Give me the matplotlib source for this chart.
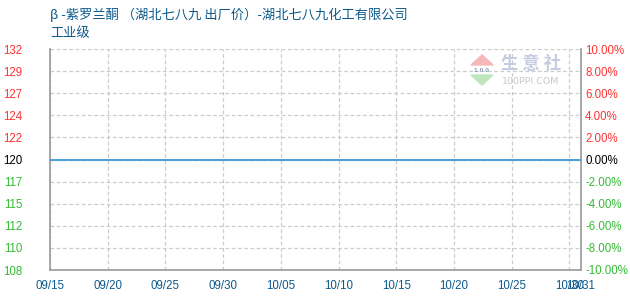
import numpy as np
import pandas as pd
import matplotlib
matplotlib.use('Agg')
import matplotlib.pyplot as plt
from matplotlib.transforms import ScaledTranslation
from matplotlib.patches import Polygon

plt.rcParams['font.family'] = ['Noto Sans CJK SC', 'DejaVu Sans']

# data
dates = ['2023-09-15', '2023-09-20', '2023-09-25', '2023-09-30', '2023-10-05',
         '2023-10-10', '2023-10-15', '2023-10-20', '2023-10-25', '2023-10-31']
prices = [120, 120, 120, 120, 120, 120, 120, 120, 120, 120]
tick_dates = ['2023-09-15', '2023-09-20', '2023-09-25', '2023-09-30', '2023-10-05',
              '2023-10-10', '2023-10-15', '2023-10-20', '2023-10-25', '2023-10-30',
              '2023-10-31']
ymin, ymax = 108, 132
pct_ticks = [10, 8, 6, 4, 2, 0, -2, -4, -6, -8, -10]
title_line1 = 'β -紫罗兰酮 （湖北七八九 出厂价）-湖北七八九化工有限公司'
title_line2 = '工业级'

RED = '#ff3333'
GREEN = '#33bb33'
BLUE_TXT = '#0d5a8c'
GRID = '#cccccc'
SPINE = '#999999'
TICKFONT = 'Liberation Sans'

x = pd.to_datetime(dates)
xt = pd.to_datetime(tick_dates)
base = prices[0]

fig = plt.figure(figsize=(6.3, 3.0), dpi=100)
ax = fig.add_axes([50 / 630, 30 / 300, 531 / 630, 221 / 300])

ax.plot(x, prices, color='#3a9ad9', lw=1.3, zorder=3)

ax.set_xlim(xt[0], xt[-1])
ax.set_ylim(ymin, ymax)

yt = np.linspace(ymin, ymax, 11)
ax.set_yticks(yt)
ax.set_yticklabels([str(int(v)) for v in yt])
for lab, v in zip(ax.get_yticklabels(), yt):
    if abs(v - base) < 1e-6:
        lab.set_color('black')
    elif v > base:
        lab.set_color(RED)
    else:
        lab.set_color(GREEN)

ax.set_xticks(xt)
ax.set_xticklabels([d.strftime('%m/%d') for d in xt])
for lab in ax.get_xticklabels():
    lab.set_color(BLUE_TXT)
# last label sits almost on top of 10/30, like in the original
last = ax.get_xticklabels()[-1]
last.set_transform(last.get_transform() + ScaledTranslation(-10 / 100, 0, fig.dpi_scale_trans))

ax.tick_params(axis='y', length=0, pad=20, labelsize=8.3)
ax.tick_params(axis='x', length=0, pad=7, labelsize=8.3)
for lab in ax.get_yticklabels() + ax.get_xticklabels():
    lab.set_fontfamily(TICKFONT)

ax.grid(True, color=GRID, ls=(0, (3, 2)), lw=0.9)
ax.set_axisbelow(True)
for s in ['left', 'bottom', 'right']:
    ax.spines[s].set_color(SPINE)
    ax.spines[s].set_linewidth(1.2)
ax.spines['top'].set_visible(False)

# right axis in percent change vs base
ax2 = ax.twinx()
ax2.set_ylim(-10, 10)
ax2.set_yticks(pct_ticks)
ax2.set_yticklabels(['%.2f%%' % p for p in pct_ticks])
for lab, p in zip(ax2.get_yticklabels(), pct_ticks):
    lab.set_color('black' if p == 0 else (RED if p > 0 else GREEN))
    lab.set_fontfamily(TICKFONT)
ax2.tick_params(axis='y', length=0, pad=3, labelsize=8.3)
for s in ax2.spines.values():
    s.set_visible(False)

# titles
fig.text(50 / 630, 1 - 15 / 300, title_line1, color=BLUE_TXT, fontsize=9.5, va='center', ha='left')
fig.text(50 / 630, 1 - 34 / 300, title_line2, color=BLUE_TXT, fontsize=9.5, va='center', ha='left')

# watermark
fig.text(501 / 630, 1 - 64 / 300, '生 意 社', color='#c5cbe0', fontsize=12.5, va='center', ha='left', fontweight='bold')
fig.text(502 / 630, 1 - 81 / 300, '100PPI.COM', color='#c8c8c8', fontsize=6.8, va='center', ha='left',
         family='DejaVu Sans')
fig.patches.append(Polygon([[471 / 630, 1 - 65 / 300], [482 / 630, 1 - 55 / 300], [493 / 630, 1 - 65 / 300]],
                           closed=True, transform=fig.transFigure, color='#f4b8b8'))
fig.patches.append(Polygon([[471 / 630, 1 - 75 / 300], [482 / 630, 1 - 85 / 300], [493 / 630, 1 - 75 / 300]],
                           closed=True, transform=fig.transFigure, color='#bde6bd'))
fig.text(482 / 630, 1 - 70 / 300, '1 0 0', color='#8fa0b8', fontsize=4, va='center', ha='center',
         family='DejaVu Sans', fontweight='bold')

fig.savefig('out.png', dpi=100)
